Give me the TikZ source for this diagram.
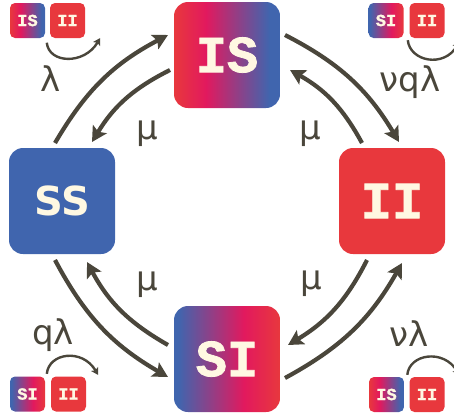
\documentclass[tikz,border=0pt]{standalone}
\usepackage{fontspec}
\setmainfont{DejaVu Sans}
\newfontfamily\slabfont{Liberation Mono}[BoldFeatures={FakeBold=1.5}]
\newfontfamily\boldsans{DejaVu Sans}
\usetikzlibrary{arrows.meta,calc}

\definecolor{cRed}{HTML}{E8383D}
\definecolor{cPink}{HTML}{E2195E}
\definecolor{cBlue}{HTML}{4065AE}
\definecolor{cText}{HTML}{FFF8E2}
\definecolor{cArrow}{HTML}{4A463B}

% horizontal blends for the mixed states (path box spans 25bp..75bp)
\pgfdeclarehorizontalshading{gradIS}{100bp}{color(0bp)=(cRed); color(25bp)=(cRed); color(40bp)=(cPink); color(70bp)=(cBlue); color(100bp)=(cBlue)}
\pgfdeclarehorizontalshading{gradSI}{100bp}{color(0bp)=(cBlue); color(27bp)=(cBlue); color(58bp)=(cPink); color(75bp)=(cRed); color(100bp)=(cRed)}

\begin{document}
\begin{tikzpicture}[x=1pt, y=-1pt,
  bigbox/.style={minimum width=106pt, minimum height=106pt, rounded corners=14pt,
    inner sep=0pt, text=cText, font=\slabfont\bfseries\fontsize{52}{52}\selectfont},
  smallbox/.style={minimum width=35pt, minimum height=35pt, rounded corners=5pt,
    inner sep=0pt, text=cText, font=\slabfont\bfseries\fontsize{17}{17}\selectfont},
  flow/.style={draw=cArrow, line width=4.2pt, -{Stealth[length=15pt,width=16pt,inset=3pt]}},
  mini/.style={draw=cArrow, line width=2.4pt, -{Stealth[length=7pt,width=8pt,inset=1.5pt]}},
  rate/.style={text=cArrow, font=\fontsize{34}{34}\selectfont, inner sep=0pt}]

\useasboundingbox (0,0) rectangle (454,416);

% compartments
\node[bigbox, shading=gradIS] (IS) at (227,55) {IS};
\node[bigbox, fill=cBlue, font=\boldsans\bfseries\fontsize{40}{40}\selectfont] (SS) at (62,201) {SS};
\node[bigbox, fill=cRed] (II) at (392,201) {II};
\node[bigbox, shading=gradSI] (SI) at (227,359) {SI};

% transitions between compartments
\draw[flow] ($(SS)+(-7,-58)$) to[bend left=16] ($(IS)+(-59,-20)$);
\draw[flow] ($(IS)+(-57,15)$) to[bend right=16] ($(SS)+(30,-59)$);
\draw[flow] ($(IS)+(58,-20)$) to[bend left=16] ($(II)+(7,-59)$);
\draw[flow] ($(II)+(-30,-58)$) to[bend right=16] ($(IS)+(63,15)$);
\draw[flow] ($(SS)+(-7,59)$) to[bend right=16] ($(SI)+(-59,18)$);
\draw[flow] ($(SI)+(-59,-14)$) to[bend left=16] ($(SS)+(25,61)$);
\draw[flow] ($(SI)+(58,19)$) to[bend right=16] ($(II)+(10,62)$);
\draw[flow] ($(II)+(-25,59)$) to[bend left=16] ($(SI)+(61,-14)$);

% rates
\node[rate] (lamA) at (51,79) {λ};
\node[rate] (lamB) at (410,82) {νqλ};
\node[rate] (lamC) at (53,335) {qλ};
\node[rate] (lamD) at (409,334) {νλ};
\node[rate] (muA) at (147,134) {μ};
\node[rate] (muB) at (310,134) {μ};
\node[rate] (muC) at (147,285) {μ};
\node[rate] (muD) at (311,284) {μ};

% pair icons: infection events
\node[smallbox, shading=gradIS] (tlA) at (27.5,20.5) {IS};
\node[smallbox, fill=cRed] (tlB) at (67.5,20.5) {II};
\draw[mini] ($(tlB.south west)+(-3,4.5)$) .. controls +(2,21) and +(-16,27) .. ($(tlB.east)+(15,17.5)$);

\node[smallbox, shading=gradSI] (trA) at (386,20.5) {SI};
\node[smallbox, fill=cRed] (trB) at (427,20.5) {II};
\draw[mini] ($(trB.south west)+(-1.5,2)$) .. controls +(2,21) and +(-16,27) .. ($(trB.east)+(15,21)$);

\node[smallbox, shading=gradSI] (blA) at (27.5,394) {SI};
\node[smallbox, fill=cRed] (blB) at (68.5,394) {II};
\draw[mini] ($(blB.north west)+(-4,-2.5)$) .. controls +(2,-21) and +(-16,-27) .. ($(blB.east)+(12,-19)$);

\node[smallbox, shading=gradIS] (brA) at (386.5,394.5) {IS};
\node[smallbox, fill=cRed] (brB) at (427,394.5) {II};
\draw[mini] ($(brB.north west)+(-2,-2)$) .. controls +(2,-21) and +(-16,-27) .. ($(brB.east)+(15,-19)$);

\end{tikzpicture}
\end{document}
